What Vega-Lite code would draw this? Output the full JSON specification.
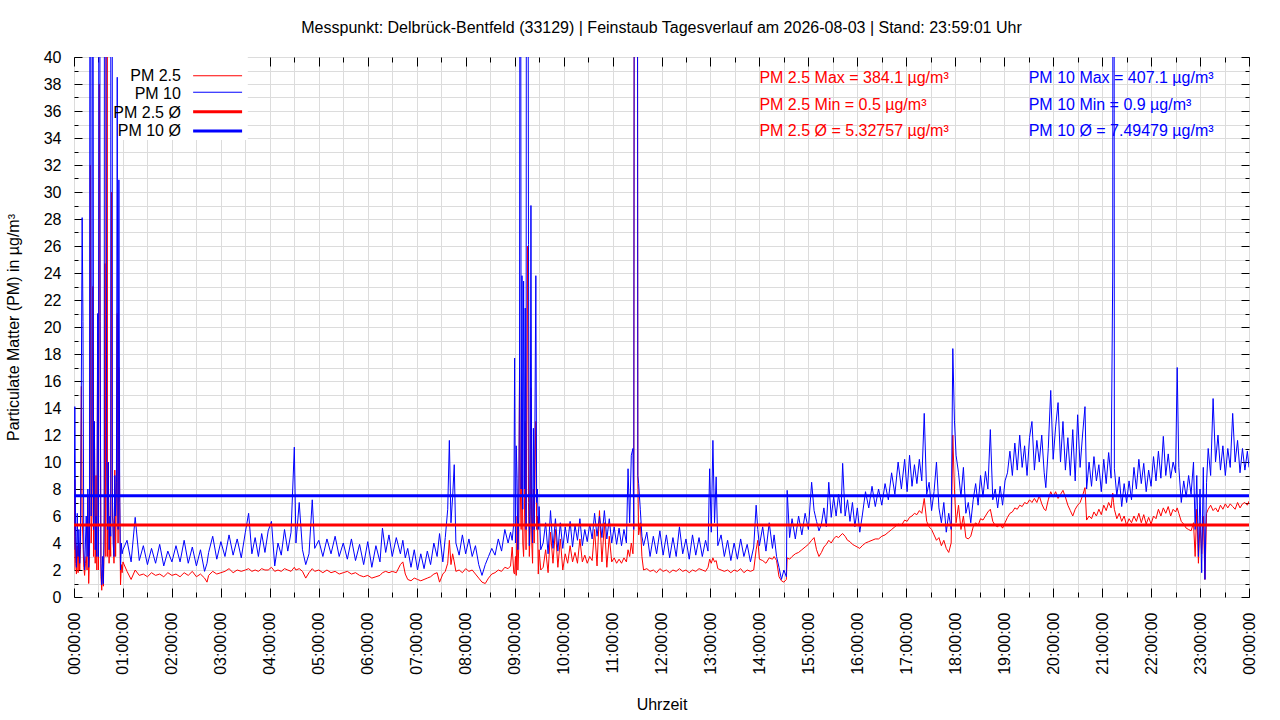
{
  "$schema": "https://vega.github.io/schema/vega-lite/v6.json",
  "description": "Feinstaub Tagesverlauf Delbrück-Bentfeld, PM 2.5 und PM 10 in µg/m³.",
  "width": 1175,
  "height": 540,
  "autosize": "none",
  "padding": {"left": 74, "top": 57, "right": 31, "bottom": 123},
  "background": "white",
  "title": {
    "text": "Messpunkt: Delbrück-Bentfeld (33129) | Feinstaub Tagesverlauf am 2026-08-03 | Stand: 23:59:01 Uhr",
    "fontSize": 16,
    "fontWeight": "normal",
    "color": "#000000",
    "offset": 13
  },
  "config": {
    "font": "Liberation Sans",
    "view": {"stroke": "#000000", "strokeWidth": 1},
    "axis": {
      "labelColor": "#000000",
      "labelFontSize": 16,
      "titleColor": "#000000",
      "titleFontSize": 16,
      "titleFontWeight": "normal",
      "tickColor": "#000000",
      "gridColor": "#dcdcdc",
      "domain": false,
      "labelOverlap": false,
      "labelFlush": false,
      "labelBound": false
    }
  },
  "data": {
    "values": [
      {"min": 0, "pm25": 2.0, "pm10": 3.5},
      {"min": 1, "pm25": 8.7, "pm10": 14.1},
      {"min": 2, "pm25": 2.5, "pm10": 4.5},
      {"min": 3, "pm25": 1.7, "pm10": 2.2},
      {"min": 4, "pm25": 3.8, "pm10": 6.2},
      {"min": 5, "pm25": 1.8, "pm10": 3.0},
      {"min": 6, "pm25": 4.0, "pm10": 5.0},
      {"min": 7, "pm25": 2.0, "pm10": 2.5},
      {"min": 8, "pm25": 3.5, "pm10": 4.5},
      {"min": 9, "pm25": 15.6, "pm10": 16.0},
      {"min": 10, "pm25": 6.0, "pm10": 28.1},
      {"min": 11, "pm25": 4.0, "pm10": 20.4},
      {"min": 12, "pm25": 2.2, "pm10": 3.5},
      {"min": 13, "pm25": 1.6, "pm10": 2.0},
      {"min": 14, "pm25": 2.5, "pm10": 4.0},
      {"min": 15, "pm25": 3.0, "pm10": 6.0},
      {"min": 16, "pm25": 2.0, "pm10": 3.0},
      {"min": 17, "pm25": 7.5, "pm10": 8.0},
      {"min": 18, "pm25": 1.0, "pm10": 2.2},
      {"min": 19, "pm25": 3.0, "pm10": 4.0},
      {"min": 20, "pm25": 32.0, "pm10": 95.0},
      {"min": 21, "pm25": 4.0, "pm10": 6.0},
      {"min": 22, "pm25": 6.0, "pm10": 9.0},
      {"min": 23, "pm25": 23.0, "pm10": 80.0},
      {"min": 24, "pm25": 3.0, "pm10": 5.0},
      {"min": 25, "pm25": 13.0, "pm10": 13.0},
      {"min": 26, "pm25": 2.5, "pm10": 3.5},
      {"min": 27, "pm25": 9.0, "pm10": 6.0},
      {"min": 28, "pm25": 2.0, "pm10": 3.0},
      {"min": 29, "pm25": 19.5, "pm10": 21.0},
      {"min": 30, "pm25": 2.0, "pm10": 3.0},
      {"min": 31, "pm25": 38.0, "pm10": 110.0},
      {"min": 32, "pm25": 20.0, "pm10": 20.4},
      {"min": 33, "pm25": 1.5, "pm10": 2.5},
      {"min": 34, "pm25": 0.5, "pm10": 0.9},
      {"min": 35, "pm25": 2.0, "pm10": 3.0},
      {"min": 36, "pm25": 0.8, "pm10": 1.0},
      {"min": 37, "pm25": 4.0, "pm10": 6.0},
      {"min": 38, "pm25": 24.7, "pm10": 160.0},
      {"min": 39, "pm25": 3.0, "pm10": 60.0},
      {"min": 40, "pm25": 384.1, "pm10": 10.0},
      {"min": 41, "pm25": 3.0, "pm10": 5.0},
      {"min": 42, "pm25": 10.0, "pm10": 10.0},
      {"min": 43, "pm25": 2.5, "pm10": 3.5},
      {"min": 44, "pm25": 5.0, "pm10": 6.0},
      {"min": 45, "pm25": 3.0, "pm10": 4.5},
      {"min": 46, "pm25": 30.0, "pm10": 407.1},
      {"min": 47, "pm25": 6.0, "pm10": 8.0},
      {"min": 48, "pm25": 5.5, "pm10": 4.0},
      {"min": 49, "pm25": 2.5, "pm10": 3.0},
      {"min": 50, "pm25": 9.4, "pm10": 9.0},
      {"min": 51, "pm25": 3.0, "pm10": 6.0},
      {"min": 52, "pm25": 8.0, "pm10": 8.5},
      {"min": 53, "pm25": 21.0, "pm10": 38.5},
      {"min": 54, "pm25": 4.0, "pm10": 5.0},
      {"min": 55, "pm25": 17.0, "pm10": 30.9},
      {"min": 56, "pm25": 7.0, "pm10": 8.0},
      {"min": 57, "pm25": 0.9, "pm10": 2.0},
      {"min": 58, "pm25": 2.4, "pm10": 4.0},
      {"min": 59, "pm25": 1.8, "pm10": 3.2},
      {"min": 60, "pm25": 2.6, "pm10": 3.5},
      {"min": 65, "pm25": 1.9, "pm10": 4.2},
      {"min": 70, "pm25": 1.3, "pm10": 2.6},
      {"min": 75, "pm25": 2.0, "pm10": 5.9},
      {"min": 80, "pm25": 1.6, "pm10": 2.7},
      {"min": 85, "pm25": 1.7, "pm10": 3.8},
      {"min": 90, "pm25": 1.5, "pm10": 2.4},
      {"min": 95, "pm25": 1.8, "pm10": 3.6},
      {"min": 100, "pm25": 1.6, "pm10": 2.5},
      {"min": 105, "pm25": 1.7, "pm10": 3.9},
      {"min": 110, "pm25": 1.5, "pm10": 2.3},
      {"min": 115, "pm25": 1.8, "pm10": 3.4},
      {"min": 120, "pm25": 1.6, "pm10": 2.6},
      {"min": 125, "pm25": 1.7, "pm10": 3.8},
      {"min": 130, "pm25": 1.5, "pm10": 2.6},
      {"min": 135, "pm25": 1.8, "pm10": 4.2},
      {"min": 140, "pm25": 1.6, "pm10": 2.5},
      {"min": 145, "pm25": 1.9, "pm10": 3.7},
      {"min": 150, "pm25": 1.5, "pm10": 2.3},
      {"min": 155, "pm25": 1.7, "pm10": 3.5},
      {"min": 160, "pm25": 1.4, "pm10": 1.9},
      {"min": 163, "pm25": 1.1, "pm10": 2.5},
      {"min": 165, "pm25": 1.6, "pm10": 3.3},
      {"min": 170, "pm25": 1.9, "pm10": 4.5},
      {"min": 175, "pm25": 1.7, "pm10": 2.8},
      {"min": 180, "pm25": 1.8, "pm10": 4.1},
      {"min": 185, "pm25": 1.9, "pm10": 3.0},
      {"min": 190, "pm25": 2.1, "pm10": 4.6},
      {"min": 195, "pm25": 1.8, "pm10": 3.1},
      {"min": 200, "pm25": 2.0, "pm10": 4.3},
      {"min": 205, "pm25": 1.9, "pm10": 2.9},
      {"min": 210, "pm25": 2.0, "pm10": 4.8},
      {"min": 214, "pm25": 2.1, "pm10": 6.2},
      {"min": 218, "pm25": 1.9, "pm10": 3.2},
      {"min": 222, "pm25": 2.0, "pm10": 4.4},
      {"min": 226, "pm25": 1.9, "pm10": 3.0},
      {"min": 230, "pm25": 2.1, "pm10": 4.7},
      {"min": 234, "pm25": 2.0, "pm10": 3.3},
      {"min": 238, "pm25": 2.0, "pm10": 4.9},
      {"min": 242, "pm25": 2.2, "pm10": 5.6},
      {"min": 246, "pm25": 1.9, "pm10": 2.3},
      {"min": 250, "pm25": 2.0, "pm10": 4.0},
      {"min": 254, "pm25": 1.9, "pm10": 3.1},
      {"min": 258, "pm25": 2.1, "pm10": 5.0},
      {"min": 262, "pm25": 2.0, "pm10": 3.4},
      {"min": 266, "pm25": 1.9, "pm10": 4.8},
      {"min": 270, "pm25": 2.2, "pm10": 11.1},
      {"min": 272, "pm25": 2.0, "pm10": 4.0},
      {"min": 276, "pm25": 2.1, "pm10": 7.0},
      {"min": 280, "pm25": 1.9, "pm10": 3.5},
      {"min": 284, "pm25": 1.4, "pm10": 2.4},
      {"min": 288, "pm25": 1.8, "pm10": 3.2},
      {"min": 292, "pm25": 2.1, "pm10": 7.2},
      {"min": 295, "pm25": 1.9, "pm10": 3.6},
      {"min": 300, "pm25": 2.0, "pm10": 4.2},
      {"min": 305, "pm25": 1.8, "pm10": 3.0},
      {"min": 310, "pm25": 2.0, "pm10": 4.3},
      {"min": 315, "pm25": 1.8, "pm10": 3.2},
      {"min": 320, "pm25": 1.9, "pm10": 4.5},
      {"min": 325, "pm25": 1.7, "pm10": 3.0},
      {"min": 330, "pm25": 1.8, "pm10": 4.0},
      {"min": 335, "pm25": 1.9, "pm10": 2.8},
      {"min": 340, "pm25": 1.7, "pm10": 4.3},
      {"min": 345, "pm25": 1.8, "pm10": 2.7},
      {"min": 350, "pm25": 1.6, "pm10": 3.9},
      {"min": 355, "pm25": 1.5, "pm10": 2.4},
      {"min": 360, "pm25": 1.6, "pm10": 4.1},
      {"min": 365, "pm25": 1.4, "pm10": 2.2},
      {"min": 370, "pm25": 1.5, "pm10": 3.8},
      {"min": 375, "pm25": 1.6, "pm10": 2.6},
      {"min": 378, "pm25": 1.8, "pm10": 5.1},
      {"min": 382, "pm25": 1.9, "pm10": 3.3},
      {"min": 386, "pm25": 1.8, "pm10": 4.6},
      {"min": 390, "pm25": 1.9, "pm10": 3.0},
      {"min": 395, "pm25": 1.8, "pm10": 4.4},
      {"min": 400, "pm25": 2.4, "pm10": 3.2},
      {"min": 403, "pm25": 2.6, "pm10": 4.2},
      {"min": 406, "pm25": 1.7, "pm10": 2.9},
      {"min": 409, "pm25": 1.3, "pm10": 3.6},
      {"min": 413, "pm25": 1.2, "pm10": 2.2},
      {"min": 417, "pm25": 1.4, "pm10": 3.5},
      {"min": 421, "pm25": 1.3, "pm10": 2.0},
      {"min": 425, "pm25": 1.2, "pm10": 3.2},
      {"min": 429, "pm25": 1.3, "pm10": 2.1},
      {"min": 433, "pm25": 1.4, "pm10": 3.4},
      {"min": 437, "pm25": 1.5, "pm10": 2.4},
      {"min": 441, "pm25": 1.7, "pm10": 4.0},
      {"min": 445, "pm25": 1.8, "pm10": 3.0},
      {"min": 448, "pm25": 1.1, "pm10": 4.7},
      {"min": 452, "pm25": 1.7, "pm10": 2.6},
      {"min": 455, "pm25": 1.9, "pm10": 4.4},
      {"min": 458, "pm25": 2.5, "pm10": 6.5},
      {"min": 460, "pm25": 4.2, "pm10": 11.6},
      {"min": 462, "pm25": 2.4, "pm10": 5.5},
      {"min": 464, "pm25": 3.2, "pm10": 7.4},
      {"min": 466, "pm25": 2.6, "pm10": 9.8},
      {"min": 468, "pm25": 1.9, "pm10": 4.0},
      {"min": 472, "pm25": 2.0, "pm10": 3.1},
      {"min": 476, "pm25": 1.8, "pm10": 4.6},
      {"min": 480, "pm25": 2.1, "pm10": 3.2},
      {"min": 484, "pm25": 1.9, "pm10": 4.3},
      {"min": 488, "pm25": 2.0, "pm10": 3.0},
      {"min": 492, "pm25": 1.7, "pm10": 3.8},
      {"min": 496, "pm25": 1.4, "pm10": 2.4},
      {"min": 500, "pm25": 1.1, "pm10": 1.6},
      {"min": 504, "pm25": 1.0, "pm10": 2.4},
      {"min": 508, "pm25": 1.4, "pm10": 3.0},
      {"min": 512, "pm25": 1.7, "pm10": 3.6},
      {"min": 516, "pm25": 1.8, "pm10": 3.1},
      {"min": 520, "pm25": 2.0, "pm10": 4.3},
      {"min": 524, "pm25": 1.9, "pm10": 3.4},
      {"min": 528, "pm25": 2.2, "pm10": 5.0},
      {"min": 532, "pm25": 2.1, "pm10": 4.0},
      {"min": 535, "pm25": 2.3, "pm10": 4.8},
      {"min": 537, "pm25": 3.7, "pm10": 4.2},
      {"min": 539, "pm25": 1.8, "pm10": 5.5},
      {"min": 540, "pm25": 1.7, "pm10": 17.7},
      {"min": 541, "pm25": 3.0, "pm10": 4.0},
      {"min": 542, "pm25": 1.6, "pm10": 11.2},
      {"min": 543, "pm25": 6.0, "pm10": 8.8},
      {"min": 544, "pm25": 2.0, "pm10": 3.5},
      {"min": 545, "pm25": 3.5, "pm10": 6.0},
      {"min": 546, "pm25": 17.0, "pm10": 16.0},
      {"min": 547, "pm25": 8.0, "pm10": 90.0},
      {"min": 548, "pm25": 5.0, "pm10": 8.0},
      {"min": 549, "pm25": 14.0, "pm10": 23.8},
      {"min": 550, "pm25": 4.0, "pm10": 6.5},
      {"min": 551, "pm25": 3.0, "pm10": 23.4},
      {"min": 552, "pm25": 6.0, "pm10": 8.0},
      {"min": 553, "pm25": 13.0, "pm10": 21.4},
      {"min": 554, "pm25": 3.5, "pm10": 5.0},
      {"min": 555, "pm25": 16.0, "pm10": 120.0},
      {"min": 556, "pm25": 26.0, "pm10": 70.0},
      {"min": 557, "pm25": 7.0, "pm10": 26.1},
      {"min": 558, "pm25": 3.0, "pm10": 3.8},
      {"min": 559, "pm25": 5.0, "pm10": 6.5},
      {"min": 560, "pm25": 15.5, "pm10": 29.0},
      {"min": 561, "pm25": 4.0, "pm10": 6.0},
      {"min": 562, "pm25": 2.5, "pm10": 4.0},
      {"min": 563, "pm25": 8.0, "pm10": 12.5},
      {"min": 564, "pm25": 4.0, "pm10": 5.0},
      {"min": 565, "pm25": 10.0, "pm10": 14.0},
      {"min": 566, "pm25": 13.0, "pm10": 23.8},
      {"min": 567, "pm25": 5.0, "pm10": 7.0},
      {"min": 568, "pm25": 6.0, "pm10": 8.0},
      {"min": 569, "pm25": 1.7, "pm10": 5.0},
      {"min": 570, "pm25": 3.5, "pm10": 6.7},
      {"min": 572, "pm25": 2.0, "pm10": 3.5},
      {"min": 575, "pm25": 2.2, "pm10": 4.0},
      {"min": 578, "pm25": 3.5, "pm10": 5.5},
      {"min": 581, "pm25": 1.8, "pm10": 3.2},
      {"min": 584, "pm25": 4.8, "pm10": 6.4},
      {"min": 587, "pm25": 2.5, "pm10": 3.6},
      {"min": 590, "pm25": 5.0, "pm10": 5.8},
      {"min": 593, "pm25": 2.2, "pm10": 3.4},
      {"min": 596, "pm25": 4.3, "pm10": 5.5},
      {"min": 599, "pm25": 2.0, "pm10": 3.6},
      {"min": 602, "pm25": 3.2, "pm10": 5.2},
      {"min": 605, "pm25": 2.5, "pm10": 4.0},
      {"min": 608, "pm25": 3.8, "pm10": 5.6},
      {"min": 611, "pm25": 2.6, "pm10": 3.7},
      {"min": 614, "pm25": 3.3, "pm10": 5.3},
      {"min": 617, "pm25": 2.5, "pm10": 4.2},
      {"min": 620, "pm25": 4.3, "pm10": 5.8},
      {"min": 623, "pm25": 2.6, "pm10": 3.8},
      {"min": 626, "pm25": 3.1, "pm10": 5.0},
      {"min": 629, "pm25": 2.5, "pm10": 4.1},
      {"min": 632, "pm25": 3.0, "pm10": 5.4},
      {"min": 635, "pm25": 2.7, "pm10": 4.3},
      {"min": 638, "pm25": 5.0, "pm10": 6.2},
      {"min": 641, "pm25": 2.3, "pm10": 4.5},
      {"min": 644, "pm25": 6.4, "pm10": 6.0},
      {"min": 647, "pm25": 2.6, "pm10": 4.4},
      {"min": 650, "pm25": 5.5, "pm10": 6.4},
      {"min": 653, "pm25": 2.2, "pm10": 4.3},
      {"min": 656, "pm25": 4.5, "pm10": 5.8},
      {"min": 659, "pm25": 2.6, "pm10": 4.0},
      {"min": 662, "pm25": 2.9, "pm10": 5.2},
      {"min": 665, "pm25": 2.5, "pm10": 3.9},
      {"min": 668, "pm25": 2.8, "pm10": 5.1},
      {"min": 671, "pm25": 2.5, "pm10": 3.8},
      {"min": 674, "pm25": 2.9, "pm10": 5.0},
      {"min": 677, "pm25": 2.6, "pm10": 4.0},
      {"min": 679, "pm25": 3.5, "pm10": 9.5},
      {"min": 681, "pm25": 3.0, "pm10": 5.5},
      {"min": 683, "pm25": 4.0, "pm10": 10.5},
      {"min": 685, "pm25": 3.2, "pm10": 11.0},
      {"min": 686, "pm25": 5.0, "pm10": 5.0},
      {"min": 687, "pm25": 80.0, "pm10": 80.0},
      {"min": 688, "pm25": 200.0, "pm10": 200.0},
      {"min": 689, "pm25": 120.0, "pm10": 120.0},
      {"min": 690, "pm25": 100.0, "pm10": 100.0},
      {"min": 691, "pm25": 9.0, "pm10": 9.0},
      {"min": 692, "pm25": 4.6, "pm10": 8.4},
      {"min": 694, "pm25": 5.5, "pm10": 6.5},
      {"min": 696, "pm25": 3.0, "pm10": 4.5},
      {"min": 698, "pm25": 2.0, "pm10": 3.8},
      {"min": 702, "pm25": 2.1, "pm10": 4.8},
      {"min": 706, "pm25": 1.9, "pm10": 3.0},
      {"min": 710, "pm25": 2.0, "pm10": 4.5},
      {"min": 714, "pm25": 1.8, "pm10": 3.2},
      {"min": 718, "pm25": 2.1, "pm10": 4.9},
      {"min": 722, "pm25": 1.9, "pm10": 3.1},
      {"min": 726, "pm25": 2.0, "pm10": 4.6},
      {"min": 730, "pm25": 1.8, "pm10": 2.9},
      {"min": 734, "pm25": 2.0, "pm10": 4.4},
      {"min": 738, "pm25": 1.9, "pm10": 3.0},
      {"min": 742, "pm25": 2.1, "pm10": 5.2},
      {"min": 746, "pm25": 1.9, "pm10": 3.2},
      {"min": 750, "pm25": 2.0, "pm10": 4.3},
      {"min": 754, "pm25": 1.8, "pm10": 2.8},
      {"min": 758, "pm25": 2.0, "pm10": 4.6},
      {"min": 762, "pm25": 1.9, "pm10": 3.1},
      {"min": 766, "pm25": 2.1, "pm10": 4.4},
      {"min": 770, "pm25": 2.0, "pm10": 3.0},
      {"min": 774, "pm25": 1.9, "pm10": 4.2},
      {"min": 777, "pm25": 2.2, "pm10": 3.4},
      {"min": 779, "pm25": 2.8, "pm10": 9.5},
      {"min": 781, "pm25": 2.5, "pm10": 4.8},
      {"min": 783, "pm25": 2.9, "pm10": 11.6},
      {"min": 785, "pm25": 2.6, "pm10": 5.5},
      {"min": 787, "pm25": 2.7, "pm10": 8.9},
      {"min": 789, "pm25": 2.1, "pm10": 3.8},
      {"min": 793, "pm25": 2.0, "pm10": 4.6},
      {"min": 797, "pm25": 1.9, "pm10": 3.0},
      {"min": 801, "pm25": 2.0, "pm10": 4.2},
      {"min": 805, "pm25": 1.8, "pm10": 2.7},
      {"min": 809, "pm25": 2.0, "pm10": 4.0},
      {"min": 813, "pm25": 1.9, "pm10": 2.8},
      {"min": 817, "pm25": 2.1, "pm10": 4.3},
      {"min": 821, "pm25": 1.8, "pm10": 3.0},
      {"min": 825, "pm25": 2.0, "pm10": 3.9},
      {"min": 829, "pm25": 1.9, "pm10": 2.6},
      {"min": 833, "pm25": 2.0, "pm10": 3.7},
      {"min": 836, "pm25": 3.5, "pm10": 6.8},
      {"min": 838, "pm25": 4.2, "pm10": 5.0},
      {"min": 840, "pm25": 2.8, "pm10": 3.8},
      {"min": 844, "pm25": 2.7, "pm10": 5.2},
      {"min": 848, "pm25": 2.5, "pm10": 3.4},
      {"min": 852, "pm25": 2.9, "pm10": 5.5},
      {"min": 856, "pm25": 2.8, "pm10": 3.6},
      {"min": 858, "pm25": 3.0, "pm10": 4.6},
      {"min": 861, "pm25": 2.7, "pm10": 3.0},
      {"min": 864, "pm25": 1.5, "pm10": 2.2},
      {"min": 867, "pm25": 1.2, "pm10": 1.3},
      {"min": 870, "pm25": 1.1, "pm10": 2.0},
      {"min": 873, "pm25": 1.3, "pm10": 1.5},
      {"min": 874, "pm25": 2.9, "pm10": 7.9},
      {"min": 877, "pm25": 2.8, "pm10": 4.4},
      {"min": 880, "pm25": 3.0, "pm10": 5.8},
      {"min": 884, "pm25": 3.2, "pm10": 4.3},
      {"min": 888, "pm25": 3.3, "pm10": 6.0},
      {"min": 892, "pm25": 3.5, "pm10": 4.6},
      {"min": 896, "pm25": 3.7, "pm10": 6.2},
      {"min": 900, "pm25": 3.9, "pm10": 5.0},
      {"min": 904, "pm25": 4.2, "pm10": 8.5},
      {"min": 907, "pm25": 4.4, "pm10": 6.4},
      {"min": 910, "pm25": 3.5, "pm10": 5.6},
      {"min": 913, "pm25": 3.0, "pm10": 4.9},
      {"min": 916, "pm25": 3.3, "pm10": 5.4},
      {"min": 919, "pm25": 3.7, "pm10": 6.6},
      {"min": 922, "pm25": 3.9, "pm10": 5.2},
      {"min": 925, "pm25": 4.2, "pm10": 8.5},
      {"min": 928, "pm25": 4.0, "pm10": 5.9},
      {"min": 931, "pm25": 4.3, "pm10": 7.4},
      {"min": 934, "pm25": 4.5, "pm10": 6.0},
      {"min": 937, "pm25": 4.4, "pm10": 7.6},
      {"min": 940, "pm25": 4.6, "pm10": 6.2},
      {"min": 942, "pm25": 4.7, "pm10": 9.9},
      {"min": 945, "pm25": 4.5, "pm10": 6.0},
      {"min": 948, "pm25": 4.2, "pm10": 7.2},
      {"min": 951, "pm25": 4.1, "pm10": 5.6},
      {"min": 954, "pm25": 3.9, "pm10": 7.0},
      {"min": 957, "pm25": 3.8, "pm10": 5.2},
      {"min": 960, "pm25": 3.7, "pm10": 6.6},
      {"min": 963, "pm25": 3.6, "pm10": 4.8},
      {"min": 966, "pm25": 3.8, "pm10": 6.0},
      {"min": 970, "pm25": 4.0, "pm10": 7.8},
      {"min": 974, "pm25": 4.1, "pm10": 6.6},
      {"min": 978, "pm25": 4.2, "pm10": 8.2},
      {"min": 982, "pm25": 4.3, "pm10": 6.7},
      {"min": 986, "pm25": 4.3, "pm10": 8.0},
      {"min": 990, "pm25": 4.5, "pm10": 6.8},
      {"min": 994, "pm25": 4.6, "pm10": 8.4},
      {"min": 998, "pm25": 4.8, "pm10": 7.2},
      {"min": 1002, "pm25": 5.0, "pm10": 9.2},
      {"min": 1006, "pm25": 5.2, "pm10": 7.6},
      {"min": 1010, "pm25": 5.4, "pm10": 10.0},
      {"min": 1014, "pm25": 5.3, "pm10": 8.0},
      {"min": 1018, "pm25": 5.7, "pm10": 10.2},
      {"min": 1021, "pm25": 5.6, "pm10": 7.8},
      {"min": 1024, "pm25": 5.9, "pm10": 10.5},
      {"min": 1027, "pm25": 6.0, "pm10": 8.2},
      {"min": 1030, "pm25": 6.2, "pm10": 9.8},
      {"min": 1033, "pm25": 6.1, "pm10": 8.4},
      {"min": 1036, "pm25": 6.4, "pm10": 10.2},
      {"min": 1039, "pm25": 6.2, "pm10": 8.6},
      {"min": 1042, "pm25": 7.3, "pm10": 13.6},
      {"min": 1045, "pm25": 5.6, "pm10": 7.6},
      {"min": 1048, "pm25": 5.2, "pm10": 8.5},
      {"min": 1051, "pm25": 5.0, "pm10": 6.4},
      {"min": 1054, "pm25": 4.6, "pm10": 7.8},
      {"min": 1057, "pm25": 4.2, "pm10": 10.0},
      {"min": 1060, "pm25": 4.4, "pm10": 6.6},
      {"min": 1063, "pm25": 3.8, "pm10": 5.5},
      {"min": 1066, "pm25": 4.2, "pm10": 7.0},
      {"min": 1069, "pm25": 3.6, "pm10": 4.8},
      {"min": 1072, "pm25": 3.3, "pm10": 6.2},
      {"min": 1075, "pm25": 4.0, "pm10": 5.0},
      {"min": 1077, "pm25": 12.0, "pm10": 18.4},
      {"min": 1079, "pm25": 8.0, "pm10": 13.1},
      {"min": 1081, "pm25": 5.5, "pm10": 10.5},
      {"min": 1084, "pm25": 6.8, "pm10": 9.2},
      {"min": 1087, "pm25": 5.0, "pm10": 7.4},
      {"min": 1090, "pm25": 6.0, "pm10": 9.6},
      {"min": 1093, "pm25": 4.4, "pm10": 6.2},
      {"min": 1096, "pm25": 4.3, "pm10": 7.0},
      {"min": 1099, "pm25": 4.5, "pm10": 5.5},
      {"min": 1102, "pm25": 5.2, "pm10": 7.2},
      {"min": 1105, "pm25": 5.5, "pm10": 8.4},
      {"min": 1108, "pm25": 5.3, "pm10": 6.8},
      {"min": 1111, "pm25": 5.8, "pm10": 9.0},
      {"min": 1114, "pm25": 5.7, "pm10": 7.4},
      {"min": 1117, "pm25": 6.0, "pm10": 9.3},
      {"min": 1120, "pm25": 6.3, "pm10": 8.0},
      {"min": 1123, "pm25": 6.5, "pm10": 12.4},
      {"min": 1126, "pm25": 5.6, "pm10": 7.2},
      {"min": 1129, "pm25": 5.3, "pm10": 8.0},
      {"min": 1132, "pm25": 5.2, "pm10": 6.6},
      {"min": 1135, "pm25": 5.4, "pm10": 8.2},
      {"min": 1138, "pm25": 5.1, "pm10": 6.8},
      {"min": 1141, "pm25": 5.5, "pm10": 8.6},
      {"min": 1144, "pm25": 5.9, "pm10": 9.2},
      {"min": 1147, "pm25": 6.2, "pm10": 10.8},
      {"min": 1150, "pm25": 6.3, "pm10": 9.0},
      {"min": 1153, "pm25": 6.6, "pm10": 11.4},
      {"min": 1156, "pm25": 6.5, "pm10": 9.4},
      {"min": 1159, "pm25": 6.8, "pm10": 12.0},
      {"min": 1162, "pm25": 6.7, "pm10": 9.6},
      {"min": 1165, "pm25": 7.0, "pm10": 11.2},
      {"min": 1168, "pm25": 6.9, "pm10": 9.0},
      {"min": 1171, "pm25": 7.2, "pm10": 11.8},
      {"min": 1174, "pm25": 7.0, "pm10": 13.0},
      {"min": 1177, "pm25": 7.3, "pm10": 9.4},
      {"min": 1180, "pm25": 7.0, "pm10": 11.6},
      {"min": 1183, "pm25": 7.5, "pm10": 10.0},
      {"min": 1186, "pm25": 6.9, "pm10": 12.0},
      {"min": 1189, "pm25": 6.5, "pm10": 9.2},
      {"min": 1191, "pm25": 6.4, "pm10": 8.1},
      {"min": 1194, "pm25": 7.2, "pm10": 11.0},
      {"min": 1197, "pm25": 7.8, "pm10": 15.3},
      {"min": 1200, "pm25": 7.4, "pm10": 10.2},
      {"min": 1203, "pm25": 7.8, "pm10": 12.6},
      {"min": 1206, "pm25": 7.3, "pm10": 14.4},
      {"min": 1209, "pm25": 7.6, "pm10": 10.0},
      {"min": 1212, "pm25": 7.9, "pm10": 13.0},
      {"min": 1215, "pm25": 7.4, "pm10": 9.4},
      {"min": 1218, "pm25": 6.8, "pm10": 11.8},
      {"min": 1221, "pm25": 6.4, "pm10": 9.0},
      {"min": 1224, "pm25": 6.0, "pm10": 12.4},
      {"min": 1227, "pm25": 6.5, "pm10": 8.6},
      {"min": 1230, "pm25": 6.8, "pm10": 13.5},
      {"min": 1233, "pm25": 7.0, "pm10": 9.6},
      {"min": 1236, "pm25": 7.5, "pm10": 12.0},
      {"min": 1239, "pm25": 8.1, "pm10": 14.1},
      {"min": 1241, "pm25": 5.7, "pm10": 8.0},
      {"min": 1244, "pm25": 6.0, "pm10": 10.0},
      {"min": 1247, "pm25": 5.8, "pm10": 8.2},
      {"min": 1250, "pm25": 6.3, "pm10": 10.4},
      {"min": 1253, "pm25": 6.0, "pm10": 8.6},
      {"min": 1256, "pm25": 6.5, "pm10": 9.8},
      {"min": 1259, "pm25": 6.1, "pm10": 7.8},
      {"min": 1262, "pm25": 6.8, "pm10": 10.2},
      {"min": 1265, "pm25": 6.4, "pm10": 8.4},
      {"min": 1268, "pm25": 7.0, "pm10": 10.7},
      {"min": 1271, "pm25": 6.6, "pm10": 8.8},
      {"min": 1273, "pm25": 7.7, "pm10": 24.0},
      {"min": 1274, "pm25": 7.0, "pm10": 150.0},
      {"min": 1275, "pm25": 6.5, "pm10": 9.5},
      {"min": 1278, "pm25": 5.8, "pm10": 7.5},
      {"min": 1281, "pm25": 6.2, "pm10": 8.9},
      {"min": 1284, "pm25": 5.6, "pm10": 6.7},
      {"min": 1287, "pm25": 6.0, "pm10": 8.4},
      {"min": 1290, "pm25": 5.3, "pm10": 7.0},
      {"min": 1293, "pm25": 5.8, "pm10": 8.6},
      {"min": 1296, "pm25": 5.5, "pm10": 7.2},
      {"min": 1299, "pm25": 6.0, "pm10": 9.6},
      {"min": 1302, "pm25": 5.6, "pm10": 8.0},
      {"min": 1305, "pm25": 6.2, "pm10": 10.2},
      {"min": 1308, "pm25": 5.5, "pm10": 8.4},
      {"min": 1311, "pm25": 6.1, "pm10": 9.9},
      {"min": 1314, "pm25": 5.4, "pm10": 7.8},
      {"min": 1317, "pm25": 5.9, "pm10": 9.4},
      {"min": 1320, "pm25": 5.4, "pm10": 8.2},
      {"min": 1323, "pm25": 6.0, "pm10": 10.4},
      {"min": 1326, "pm25": 5.8, "pm10": 8.6},
      {"min": 1329, "pm25": 6.5, "pm10": 10.8},
      {"min": 1332, "pm25": 6.0, "pm10": 8.8},
      {"min": 1335, "pm25": 6.6, "pm10": 11.9},
      {"min": 1338, "pm25": 6.2, "pm10": 9.0},
      {"min": 1341, "pm25": 6.7, "pm10": 10.6},
      {"min": 1344, "pm25": 6.0, "pm10": 8.8},
      {"min": 1347, "pm25": 6.5, "pm10": 10.0},
      {"min": 1350, "pm25": 6.3, "pm10": 9.2},
      {"min": 1352, "pm25": 6.6, "pm10": 17.0},
      {"min": 1354, "pm25": 6.2, "pm10": 9.6},
      {"min": 1357, "pm25": 5.6, "pm10": 7.0},
      {"min": 1360, "pm25": 5.4, "pm10": 8.6},
      {"min": 1363, "pm25": 5.1, "pm10": 7.4},
      {"min": 1366, "pm25": 5.0, "pm10": 9.0},
      {"min": 1369, "pm25": 4.9, "pm10": 7.6},
      {"min": 1372, "pm25": 5.5, "pm10": 10.0},
      {"min": 1374, "pm25": 3.0, "pm10": 5.0},
      {"min": 1376, "pm25": 6.5, "pm10": 9.0},
      {"min": 1378, "pm25": 2.5, "pm10": 3.0},
      {"min": 1380, "pm25": 5.5, "pm10": 8.0},
      {"min": 1382, "pm25": 3.2, "pm10": 1.8},
      {"min": 1384, "pm25": 6.0, "pm10": 9.6},
      {"min": 1386, "pm25": 1.3, "pm10": 1.3},
      {"min": 1388, "pm25": 6.2, "pm10": 8.5},
      {"min": 1390, "pm25": 6.5, "pm10": 11.0},
      {"min": 1393, "pm25": 6.8, "pm10": 9.0},
      {"min": 1396, "pm25": 6.4, "pm10": 14.7},
      {"min": 1399, "pm25": 6.6, "pm10": 10.0},
      {"min": 1402, "pm25": 6.3, "pm10": 12.0},
      {"min": 1405, "pm25": 6.8, "pm10": 9.4},
      {"min": 1408, "pm25": 6.5, "pm10": 11.2},
      {"min": 1411, "pm25": 6.9, "pm10": 9.0},
      {"min": 1414, "pm25": 6.6, "pm10": 11.0},
      {"min": 1417, "pm25": 6.9, "pm10": 9.6},
      {"min": 1420, "pm25": 6.7, "pm10": 13.6},
      {"min": 1423, "pm25": 6.5, "pm10": 10.0},
      {"min": 1426, "pm25": 7.0, "pm10": 11.6},
      {"min": 1429, "pm25": 6.6, "pm10": 9.2},
      {"min": 1432, "pm25": 6.9, "pm10": 11.0},
      {"min": 1435, "pm25": 7.0, "pm10": 9.4},
      {"min": 1438, "pm25": 6.8, "pm10": 10.8},
      {"min": 1440, "pm25": 7.1, "pm10": 9.6}
    ]
  },
  "resolve": {"axis": {"x": "independent", "y": "independent"}},
  "layer": [
    {
      "data": {"values": [{}]},
      "mark": {"type": "rect", "fill": "white"},
      "encoding": {
        "x": {"datum": 45, "type": "quantitative", "scale": {"domain": [0, 1440], "nice": false}, "axis": null},
        "x2": {"datum": 213},
        "y": {"datum": 33.85, "type": "quantitative", "scale": {"domain": [0, 40], "nice": false}, "axis": null},
        "y2": {"datum": 40}
      }
    },
    {
      "mark": {"type": "line", "color": "#ff0000", "strokeWidth": 1, "clip": true},
      "encoding": {
        "x": {
          "field": "min",
          "type": "quantitative",
          "scale": {"domain": [0, 1440], "nice": false},
          "axis": {
            "orient": "bottom",
            "values": [0, 30, 60, 90, 120, 150, 180, 210, 240, 270, 300, 330, 360, 390, 420, 450, 480, 510, 540, 570, 600, 630, 660, 690, 720, 750, 780, 810, 840, 870, 900, 930, 960, 990, 1020, 1050, 1080, 1110, 1140, 1170, 1200, 1230, 1260, 1290, 1320, 1350, 1380, 1410, 1440],
            "labelExpr": "datum.value % 60 === 0 ? ((floor(datum.value / 60) % 24) < 10 ? '0' : '') + (floor(datum.value / 60) % 24) + ':00:00' : ''",
            "labelAngle": -90,
            "labelPadding": 24,
            "tickSize": {"condition": {"test": "datum.value % 60 === 0", "value": -9}, "value": -5},
            "grid": true,
            "title": "Uhrzeit",
            "titlePadding": 22
          }
        },
        "y": {
          "field": "pm25",
          "type": "quantitative",
          "scale": {"domain": [0, 40], "nice": false},
          "axis": {
            "orient": "left",
            "values": [0, 1, 2, 3, 4, 5, 6, 7, 8, 9, 10, 11, 12, 13, 14, 15, 16, 17, 18, 19, 20, 21, 22, 23, 24, 25, 26, 27, 28, 29, 30, 31, 32, 33, 34, 35, 36, 37, 38, 39, 40],
            "labelExpr": "datum.value % 2 === 0 ? datum.label : ''",
            "labelPadding": 21,
            "tickSize": {"condition": {"test": "datum.value % 2 === 0", "value": -8}, "value": -4},
            "grid": true,
            "title": "Particulate Matter (PM) in µg/m³",
            "titlePadding": 22
          }
        }
      }
    },
    {
      "mark": {"type": "line", "color": "#0000ff", "strokeWidth": 1, "clip": true},
      "encoding": {
        "x": {
          "field": "min",
          "type": "quantitative",
          "scale": {"domain": [0, 1440], "nice": false},
          "axis": {
            "orient": "top",
            "values": [0, 30, 60, 90, 120, 150, 180, 210, 240, 270, 300, 330, 360, 390, 420, 450, 480, 510, 540, 570, 600, 630, 660, 690, 720, 750, 780, 810, 840, 870, 900, 930, 960, 990, 1020, 1050, 1080, 1110, 1140, 1170, 1200, 1230, 1260, 1290, 1320, 1350, 1380, 1410, 1440],
            "labels": false,
            "grid": false,
            "title": null,
            "tickSize": {"condition": {"test": "datum.value % 60 === 0", "value": -9}, "value": -5}
          }
        },
        "y": {
          "field": "pm10",
          "type": "quantitative",
          "scale": {"domain": [0, 40], "nice": false},
          "axis": {
            "orient": "right",
            "values": [0, 1, 2, 3, 4, 5, 6, 7, 8, 9, 10, 11, 12, 13, 14, 15, 16, 17, 18, 19, 20, 21, 22, 23, 24, 25, 26, 27, 28, 29, 30, 31, 32, 33, 34, 35, 36, 37, 38, 39, 40],
            "labels": false,
            "grid": false,
            "title": null,
            "tickSize": {"condition": {"test": "datum.value % 2 === 0", "value": -8}, "value": -4}
          }
        }
      }
    },
    {
      "data": {
        "values": [
          {"series": "PM 2.5", "avg": 5.32757},
          {"series": "PM 10", "avg": 7.49479}
        ]
      },
      "mark": {"type": "rule", "strokeWidth": 3},
      "encoding": {
        "y": {"field": "avg", "type": "quantitative", "scale": {"domain": [0, 40], "nice": false}, "axis": null},
        "color": {
          "field": "series",
          "type": "nominal",
          "scale": {"domain": ["PM 2.5", "PM 10"], "range": ["#ff0000", "#0000ff"]},
          "legend": null
        }
      }
    },
    {
      "data": {"values": [{}]},
      "mark": {"type": "rule", "color": "#ff0000", "strokeWidth": 1},
      "encoding": {
        "x": {"datum": 146, "type": "quantitative", "axis": null},
        "x2": {"datum": 206},
        "y": {"datum": 38.61, "type": "quantitative", "axis": null}
      }
    },
    {
      "data": {"values": [{}]},
      "mark": {"type": "rule", "color": "#0000ff", "strokeWidth": 1},
      "encoding": {
        "x": {"datum": 146, "type": "quantitative", "axis": null},
        "x2": {"datum": 206},
        "y": {"datum": 37.39, "type": "quantitative", "axis": null}
      }
    },
    {
      "data": {"values": [{}]},
      "mark": {"type": "rule", "color": "#ff0000", "strokeWidth": 3},
      "encoding": {
        "x": {"datum": 146, "type": "quantitative", "axis": null},
        "x2": {"datum": 206},
        "y": {"datum": 35.95, "type": "quantitative", "axis": null}
      }
    },
    {
      "data": {"values": [{}]},
      "mark": {"type": "rule", "color": "#0000ff", "strokeWidth": 3},
      "encoding": {
        "x": {"datum": 146, "type": "quantitative", "axis": null},
        "x2": {"datum": 206},
        "y": {"datum": 34.52, "type": "quantitative", "axis": null}
      }
    },
    {
      "data": {"values": [{}]},
      "mark": {
        "type": "text",
        "text": ["PM 2.5", "PM 10", "PM 2.5 Ø", "PM 10 Ø"],
        "align": "right",
        "baseline": "middle",
        "lineHeight": 18.5,
        "fontSize": 16,
        "color": "#000000"
      },
      "encoding": {
        "x": {"datum": 131, "type": "quantitative", "axis": null},
        "y": {"datum": 38.61, "type": "quantitative", "axis": null}
      }
    },
    {
      "data": {"values": [{}]},
      "mark": {
        "type": "text",
        "text": ["PM 2.5 Max = 384.1 µg/m³", "PM 2.5 Min = 0.5 µg/m³", "PM 2.5 Ø = 5.32757 µg/m³"],
        "align": "left",
        "baseline": "middle",
        "lineHeight": 26.7,
        "fontSize": 16,
        "color": "#ff0000"
      },
      "encoding": {
        "x": {"datum": 840, "type": "quantitative", "axis": null},
        "y": {"datum": 38.44, "type": "quantitative", "axis": null}
      }
    },
    {
      "data": {"values": [{}]},
      "mark": {
        "type": "text",
        "text": ["PM 10 Max = 407.1 µg/m³", "PM 10 Min = 0.9 µg/m³", "PM 10 Ø = 7.49479 µg/m³"],
        "align": "left",
        "baseline": "middle",
        "lineHeight": 26.7,
        "fontSize": 16,
        "color": "#0000ff"
      },
      "encoding": {
        "x": {"datum": 1170, "type": "quantitative", "axis": null},
        "y": {"datum": 38.44, "type": "quantitative", "axis": null}
      }
    }
  ]
}
